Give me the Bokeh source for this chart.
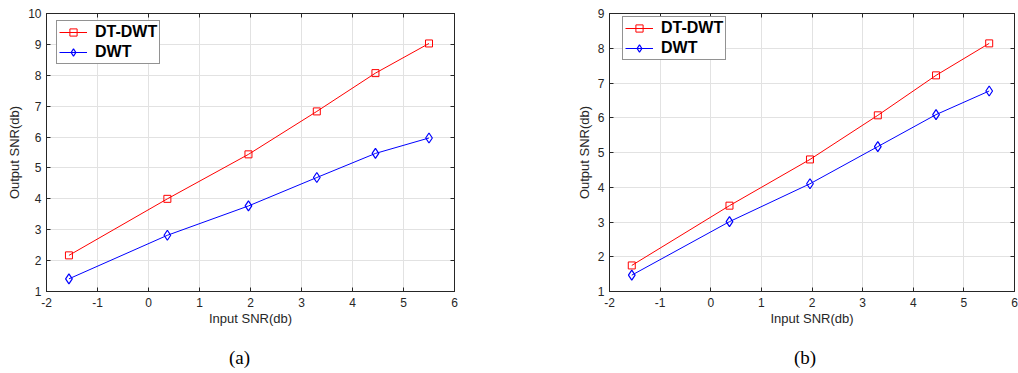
from bokeh.plotting import figure
from bokeh.layouts import row, column
from bokeh.models import LinearAxis, Div, FixedTicker, Range1d, CustomLabelingPolicy
from bokeh.embed import file_html
from bokeh.resources import INLINE

# ---- data ----
x_snr = [-1.56, 0.37, 1.96, 3.30, 4.45, 5.50]
a_dtdwt = [2.17, 4.00, 5.44, 6.83, 8.07, 9.03]
a_dwt = [1.41, 2.82, 3.77, 4.69, 5.47, 5.97]
b_dtdwt = [1.75, 3.47, 4.80, 6.07, 7.22, 8.14]
b_dwt = [1.47, 3.01, 4.10, 5.17, 6.09, 6.77]
x_ticks = [-2, -1, 0, 1, 2, 3, 4, 5, 6]
a_yticks = [1, 2, 3, 4, 5, 6, 7, 8, 9, 10]
b_yticks = [1, 2, 3, 4, 5, 6, 7, 8, 9]
series_names = ["DT-DWT", "DWT"]
x_label = "Input SNR(db)"
y_label = "Output SNR(db)"
captions = ["(a)", "(b)"]

AX = "#262626"
SANS = "Liberation Sans"

NO_LABELS = CustomLabelingPolicy(code="""
try { for (const i of Array.from(indices)) indices.set(i, false) } catch (e) {}
return indices
""")


def style_axis(ax, ticks, labels=True, standoff=5, label_standoff=3):
    ax.ticker = FixedTicker(ticks=ticks)
    ax.axis_line_color = AX
    ax.major_tick_line_color = AX
    ax.major_tick_in = 4
    ax.major_tick_out = 0
    ax.minor_tick_line_color = None
    if labels:
        ax.major_label_overrides = {t: str(t) for t in ticks}
        ax.major_label_text_font = SANS
        ax.major_label_text_font_size = "12px"
        ax.major_label_text_color = AX
        ax.major_label_standoff = standoff
        ax.axis_label_text_font = SANS
        ax.axis_label_text_font_size = "13px"
        ax.axis_label_text_font_style = "normal"
        ax.axis_label_text_color = AX
        ax.axis_label_standoff = label_standoff
    else:
        ax.major_label_policy = NO_LABELS
        ax.major_label_text_font_size = "1px"
        ax.major_label_standoff = 0


def make(y_top, yticks, dt, dw, width, mb_left, mb_right, legend_loc):
    p = figure(width=width, height=335, output_backend="svg", toolbar_location=None,
               x_range=Range1d(-2, 6), y_range=Range1d(1, y_top),
               min_border_left=mb_left, min_border_right=mb_right,
               min_border_top=13, min_border_bottom=44)
    p.background_fill_color = "white"
    p.border_fill_color = "white"
    p.outline_line_color = AX
    p.outline_line_width = 1
    p.xaxis.axis_label = x_label
    p.yaxis.axis_label = y_label
    style_axis(p.xaxis[0], x_ticks, standoff=6, label_standoff=1)
    style_axis(p.yaxis[0], yticks, standoff=5, label_standoff=3)
    top = LinearAxis()
    right = LinearAxis()
    style_axis(top, x_ticks, labels=False)
    style_axis(right, yticks, labels=False)
    p.add_layout(top, "above")
    p.add_layout(right, "right")
    p.xgrid.ticker = FixedTicker(ticks=x_ticks)
    p.ygrid.ticker = FixedTicker(ticks=yticks)
    for g in (p.xgrid[0], p.ygrid[0]):
        g.grid_line_color = "#e2e2e2"
        g.grid_line_width = 1

    p.line(x_snr, dt, line_color="#ff0000", line_width=1, legend_label=series_names[0])
    p.scatter(x_snr, dt, marker="square", size=7, line_color="#ff0000", fill_color=None,
              line_width=1, legend_label=series_names[0])
    p.line(x_snr, dw, line_color="#0000ff", line_width=1, legend_label=series_names[1])
    p.scatter(x_snr, dw, marker="diamond", size=10, line_color="#0000ff", fill_color=None,
              line_width=1.2, legend_label=series_names[1])

    lg = p.legend[0]
    lg.location = legend_loc
    lg.border_line_color = AX
    lg.border_line_width = 1
    lg.background_fill_color = "white"
    lg.background_fill_alpha = 1
    lg.padding = 2
    lg.spacing = 2
    lg.margin = 0
    lg.glyph_width = 28
    lg.glyph_height = 18
    lg.label_height = 18
    lg.label_standoff = 8
    lg.label_text_font = SANS
    lg.label_text_font_size = "16px"
    lg.label_text_font_style = "bold"
    lg.label_text_color = "black"
    return p


def caption_div(text, left):
    return Div(text=text, width=60, height=26, margin=(12, 0, 0, left),
               styles={"font-family": "Liberation Serif", "font-size": "19px",
                       "line-height": "22px", "color": "black"})


pa = make(10, a_yticks, a_dtdwt, a_dwt, 540, 46, 86, (10, 227))
pb = make(9, b_yticks, b_dtdwt, b_dwt, 478, 69, 1, (13, 231))

layout = row(column(pa, caption_div(captions[0], 229)),
             column(pb, caption_div(captions[1], 254)))
open("out.html", "w").write(file_html(layout, INLINE))
